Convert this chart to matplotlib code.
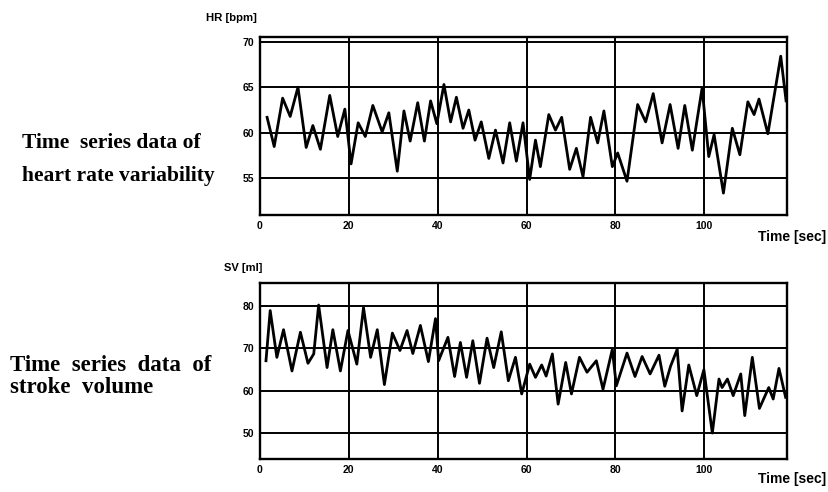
import numpy as np
import matplotlib
matplotlib.use('Agg')
import matplotlib.pyplot as plt

hr_t = [1.6, 3.2, 5.1, 6.8, 8.55, 10.4, 11.9, 13.6, 15.7, 17.5, 19.1, 20.5,
        22.1, 23.7, 25.4, 27.5, 29.0, 30.9, 32.4, 33.8, 35.5, 37.0, 38.4, 39.8,
        41.4, 42.9, 44.2, 45.7, 47.0, 48.4, 49.8, 51.5, 53.0, 54.7, 56.2, 57.7,
        59.2, 60.7, 62.0, 63.1, 65.0, 66.5, 67.9, 69.7, 71.2, 72.7, 74.4, 76.0,
        77.4, 79.3, 80.5, 82.6, 85.0, 86.8, 88.5, 90.5, 92.3, 94.1, 95.6, 97.3,
        99.5, 101.0, 102.2, 104.3, 106.3, 108.0, 109.8, 111.2, 112.3, 114.3,
        117.2, 118.4]
hr_v = [61.7, 58.5, 63.8, 61.8, 65.0, 58.4, 60.8, 58.2, 64.1, 59.6, 62.6, 56.6,
        61.1, 59.6, 63.0, 60.1, 62.2, 55.8, 62.4, 59.1, 63.3, 59.1, 63.5, 61.0,
        65.3, 61.2, 63.9, 60.5, 62.5, 59.2, 61.2, 57.2, 60.3, 56.7, 61.1, 56.9,
        61.1, 54.9, 59.2, 56.3, 62.0, 60.3, 61.7, 56.0, 58.3, 55.2, 61.7, 58.9,
        62.4, 56.3, 57.8, 54.7, 63.1, 61.2, 64.3, 58.9, 63.1, 58.3, 63.0, 58.1,
        64.9, 57.4, 59.8, 53.4, 60.5, 57.6, 63.4, 62.0, 63.7, 59.9,
        68.4, 63.5]

# stroke volume trace
sv_t = [1.35, 2.3, 3.8, 5.3, 7.2, 9.1, 10.8, 12.1, 13.2, 15.1, 16.4, 18.1,
        19.8, 21.8, 23.3, 24.9, 26.4, 28.0, 29.8, 31.5, 33.1, 34.4, 36.1, 37.9,
        39.5, 40.2, 42.3, 43.8, 45.1, 46.5, 47.9, 49.4, 51.1, 52.6, 54.3, 55.9,
        57.5, 58.9, 60.7, 62.0, 63.4, 64.4, 65.8, 67.1, 68.8, 70.1, 71.9, 73.6,
        75.7, 77.2, 79.3, 80.2, 82.6, 84.4, 86.0, 87.8, 89.8, 91.1, 92.4, 93.9,
        95.0, 96.5, 98.3, 99.9, 101.8, 103.3, 104.0, 105.2, 106.5, 108.2, 109.1,
        110.8, 112.4, 114.5, 115.5, 116.8, 118.3]
sv_v = [67.1, 78.9, 67.9, 74.4, 64.7, 73.8, 66.5, 68.7, 80.2, 65.5, 74.4, 64.7,
        74.2, 66.3, 79.6, 67.9, 74.4, 61.5, 73.6, 69.5, 74.2, 68.8, 75.4, 66.9,
        77.0, 67.1, 72.6, 63.4, 71.4, 63.2, 71.8, 61.8, 72.4, 65.5, 73.9, 62.4,
        67.9, 59.3, 66.3, 63.2, 66.1, 63.5, 68.7, 56.9, 66.7, 59.3, 67.9, 64.4,
        67.1, 60.4, 69.8, 61.2, 68.9, 63.4, 68.1, 64.0, 68.4, 61.1, 65.8, 69.8,
        55.3, 66.1, 58.9, 65.0, 50.1, 62.8, 60.8, 62.8, 58.9, 64.0, 54.2,
        67.9, 55.9, 60.8, 58.1, 65.3, 58.5]

x_ticks = [0, 20, 40, 60, 80, 100]
hr_ticks = [55, 60, 65, 70]
sv_ticks = [50, 60, 70, 80]

tick_font = dict(family='Liberation Sans', weight='bold', size=7.5)
serif_font = dict(family='Liberation Serif', weight='bold')

fig = plt.figure(figsize=(8.29, 4.92), dpi=100)
ax1 = fig.add_axes([0.3136, 0.563, 0.6357, 0.3618])
ax2 = fig.add_axes([0.3136, 0.0671, 0.6357, 0.357])


def style(ax, yticks, ylim):
    ax.set_xlim(0, 118.6)
    ax.set_ylim(*ylim)
    ax.set_xticks(x_ticks)
    ax.set_yticks(yticks)
    ax.grid(True, color='black', lw=1.4)
    ax.set_axisbelow(True)
    ax.tick_params(length=0, pad=4)
    for lab in ax.get_xticklabels() + ax.get_yticklabels():
        lab.set_fontproperties(matplotlib.font_manager.FontProperties(**tick_font))
    for s in ax.spines.values():
        s.set_linewidth(1.7)


ax1.plot(hr_t, hr_v, color='black', lw=2.0, solid_joinstyle='round')
style(ax1, hr_ticks, (51, 70.5))
ax2.plot(sv_t, sv_v, color='black', lw=2.0, solid_joinstyle='round')
style(ax2, sv_ticks, (44, 85.3))

# axis captions
fig.text(257 / 829, 1 - 18 / 492, 'HR [bpm]', ha='right', va='center',
         family='Liberation Sans', weight='bold', size=8.2)
fig.text(262 / 829, 1 - 268 / 492, 'SV [ml]', ha='right', va='center',
         family='Liberation Sans', weight='bold', size=8)
fig.text(826 / 829, 1 - 237 / 492, 'Time [sec]', ha='right', va='center',
         family='Liberation Sans', weight='bold', size=10)
fig.text(826 / 829, 1 - 479 / 492, 'Time [sec]', ha='right', va='center',
         family='Liberation Sans', weight='bold', size=10)

# side descriptions
fig.text(22 / 829, 1 - 148 / 492, 'Time  series data of', ha='left', va='baseline',
         size=15.5, **serif_font)
fig.text(22 / 829, 1 - 181 / 492, 'heart rate variability', ha='left', va='baseline',
         size=15.5, **serif_font)
fig.text(10 / 829, 1 - 371 / 492, 'Time  series  data  of', ha='left', va='baseline',
         size=16.5, **serif_font)
fig.text(10 / 829, 1 - 393 / 492, 'stroke  volume', ha='left', va='baseline',
         size=16.5, **serif_font)

fig.savefig('out.png', dpi=100)
